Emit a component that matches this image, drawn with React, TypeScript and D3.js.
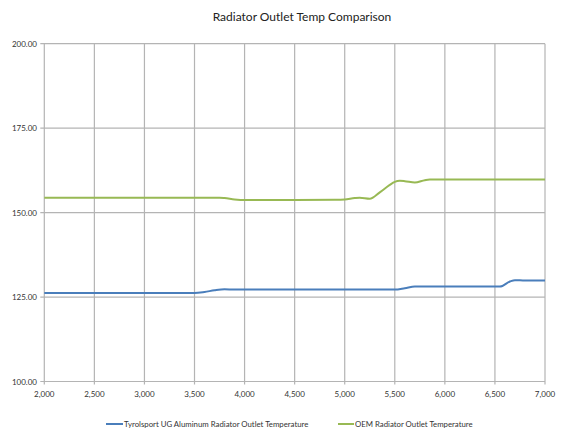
import React from "react";
import * as d3 from "d3";

const title = "Radiator Outlet Temp Comparison";
const seriesNames = [
  "Tyrolsport UG Aluminum Radiator Outlet Temperature",
  "OEM Radiator Outlet Temperature",
];
const xTicks = [2000, 2500, 3000, 3500, 4000, 4500, 5000, 5500, 6000, 6500, 7000];
const yTicks = [100, 125, 150, 175, 200];

const tyrolRpm = [2000, 2500, 3000, 3400, 3500, 3600, 3700, 3800, 3900, 4500, 5000, 5500, 5600, 5700, 5800, 6000, 6500, 6550, 6650, 6700, 6800, 7000];
const tyrolTemp = [126.2, 126.2, 126.2, 126.2, 126.2, 126.5, 127.0, 127.3, 127.2, 127.2, 127.2, 127.2, 127.6, 128.1, 128.1, 128.1, 128.1, 128.1, 129.6, 130.0, 129.9, 129.9];

const oemRpm = [2000, 2500, 3000, 3500, 3750, 3800, 3900, 4000, 4500, 4900, 5000, 5100, 5150, 5250, 5350, 5450, 5500, 5550, 5600, 5700, 5800, 5850, 6000, 6500, 7000];
const oemTemp = [154.4, 154.4, 154.4, 154.4, 154.4, 154.3, 153.9, 153.7, 153.7, 153.8, 153.9, 154.3, 154.4, 154.1, 156.0, 158.2, 159.1, 159.4, 159.3, 158.9, 159.6, 159.8, 159.8, 159.8, 159.8];

const W = 580;
const H = 435;
const M = { left: 44.3, right: 545, top: 43.7, bottom: 381.5 };
const FONT = "Lato, 'Open Sans', sans-serif";

export default function App() {
  const x = d3.scaleLinear().domain([2000, 7000]).range([M.left, M.right]);
  const y = d3.scaleLinear().domain([100, 200]).range([M.bottom, M.top]);
  const line = d3
    .line<[number, number]>()
    .x((d) => x(d[0]))
    .y((d) => y(d[1]))
    .curve(d3.curveMonotoneX);

  const tyrol = tyrolRpm.map((r, i) => [r, tyrolTemp[i]] as [number, number]);
  const oem = oemRpm.map((r, i) => [r, oemTemp[i]] as [number, number]);
  const colors = ["#4a7ebb", "#98b954"];
  const grid = "#b4b4b4";
  const fmtX = d3.format(",");

  return (
    <div style={{ position: "absolute", left: 0, top: 0 }}>
      <svg width={W} height={H} style={{ display: "block", background: "#fff" }}>
        <text x={302} y={21} textAnchor="middle" fontFamily={FONT} fontSize={12} fill="#222">
          {title}
        </text>
        {yTicks.map((t) => (
          <g key={"y" + t}>
            <line x1={M.left - 4} x2={M.right} y1={y(t)} y2={y(t)} stroke={grid} strokeWidth={1.2} />
            <text x={37} y={y(t) + 3} textAnchor="end" fontFamily={FONT} fontSize={8} fill="#333">
              {t.toFixed(2)}
            </text>
          </g>
        ))}
        {xTicks.map((t) => (
          <g key={"x" + t}>
            <line x1={x(t)} x2={x(t)} y1={M.top} y2={M.bottom + 3} stroke={grid} strokeWidth={1.2} />
            <text x={x(t)} y={396.5} textAnchor="middle" fontFamily={FONT} fontSize={8} fill="#333">
              {fmtX(t)}
            </text>
          </g>
        ))}
        <path d={line(tyrol) || ""} fill="none" stroke={colors[0]} strokeWidth={2} />
        <path d={line(oem) || ""} fill="none" stroke={colors[1]} strokeWidth={2} />
        <g>
          <line x1={106} x2={123} y1={424} y2={424} stroke={colors[0]} strokeWidth={2} />
          <text x={124} y={427} fontFamily={FONT} fontSize={7.8} fill="#333">
            {seriesNames[0]}
          </text>
          <line x1={338} x2={354} y1={424} y2={424} stroke={colors[1]} strokeWidth={2} />
          <text x={355} y={427} fontFamily={FONT} fontSize={7.8} fill="#333">
            {seriesNames[1]}
          </text>
        </g>
      </svg>
    </div>
  );
}
